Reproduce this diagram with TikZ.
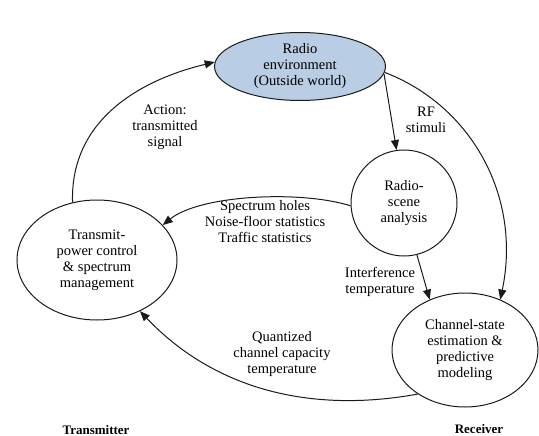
\documentclass[tikz,border=0pt]{standalone}
\usepackage{fontspec}
\setmainfont{Liberation Serif}
\usepackage{tikz}
\usetikzlibrary{shapes.geometric,arrows.meta,positioning}
\usepackage{xcolor}
\definecolor{EnvBlue}{HTML}{B9CDE5}
\definecolor{LineBlack}{HTML}{1A1A1A}

\begin{document}
\begin{tikzpicture}[x=1pt, y=-1pt,
    font=\rmfamily\fontsize{14.5}{16}\selectfont,
    envnode/.style={draw=LineBlack, fill=EnvBlue, ellipse, line width=1pt, minimum width=171pt, minimum height=68pt, inner sep=0pt, align=center},
    ellnode/.style={draw=LineBlack, fill=white, ellipse, line width=1pt, inner sep=0pt, align=center},
    cirnode/.style={draw=LineBlack, fill=white, circle, line width=1pt, minimum size=106pt, inner sep=0pt, align=center},
    lbl/.style={align=center, inner sep=1pt},
    side/.style={font=\rmfamily\fontsize{13}{15}\selectfont\bfseries, inner sep=0pt},
    arr/.style={-{Triangle[length=10pt,width=8pt]}, draw=LineBlack, line width=1pt}
  ]
    \useasboundingbox (0,0) rectangle (539,436);

    \node[envnode] (env) at (300,66.5) {Radio\\environment\\(Outside world)};
    \node[cirnode] (scene) at (404,203) {Radio-\\scene\\analysis};
    \node[ellnode, minimum width=160pt, minimum height=120pt] (tx) at (97,260) {Transmit-\\power control\\\& spectrum\\management};
    \node[ellnode, minimum width=146pt, minimum height=114pt] (ch) at (465,350) {Channel-state\\estimation \&\\predictive\\modeling};

    \node[lbl] (act) at (165,127) {Action:\\transmitted\\signal};
    \node[lbl] (rf) at (426,120) {RF\\stimuli};
    \node[lbl] (spec) at (265,222) {Spectrum holes\\Noise-floor statistics\\Traffic statistics};
    \node[lbl] (intf) at (380,282) {Interference\\temperature};
    \node[lbl] (quant) at (282,354) {Quantized\\channel capacity\\temperature};

    \node[side] (txside) at (96,430) {Transmitter};
    \node[side] (rxside) at (479,429) {Receiver};

    \draw[arr] (tx.113) .. controls (70,120) and (140,80) .. (env.177);
    \draw[arr] (env.-5) -- (scene.98);
    \draw[arr] (env.-4) .. controls (470,105) and (522,195) .. (ch.55);
    \draw[arr] (scene.183) .. controls (300,190) and (200,195) .. (tx.28);
    \draw[arr] (scene.-76) -- (ch.125);
    \draw[arr] (ch.223) .. controls (320,412) and (220,395) .. (tx.-50);
  \end{tikzpicture}
\end{document}
